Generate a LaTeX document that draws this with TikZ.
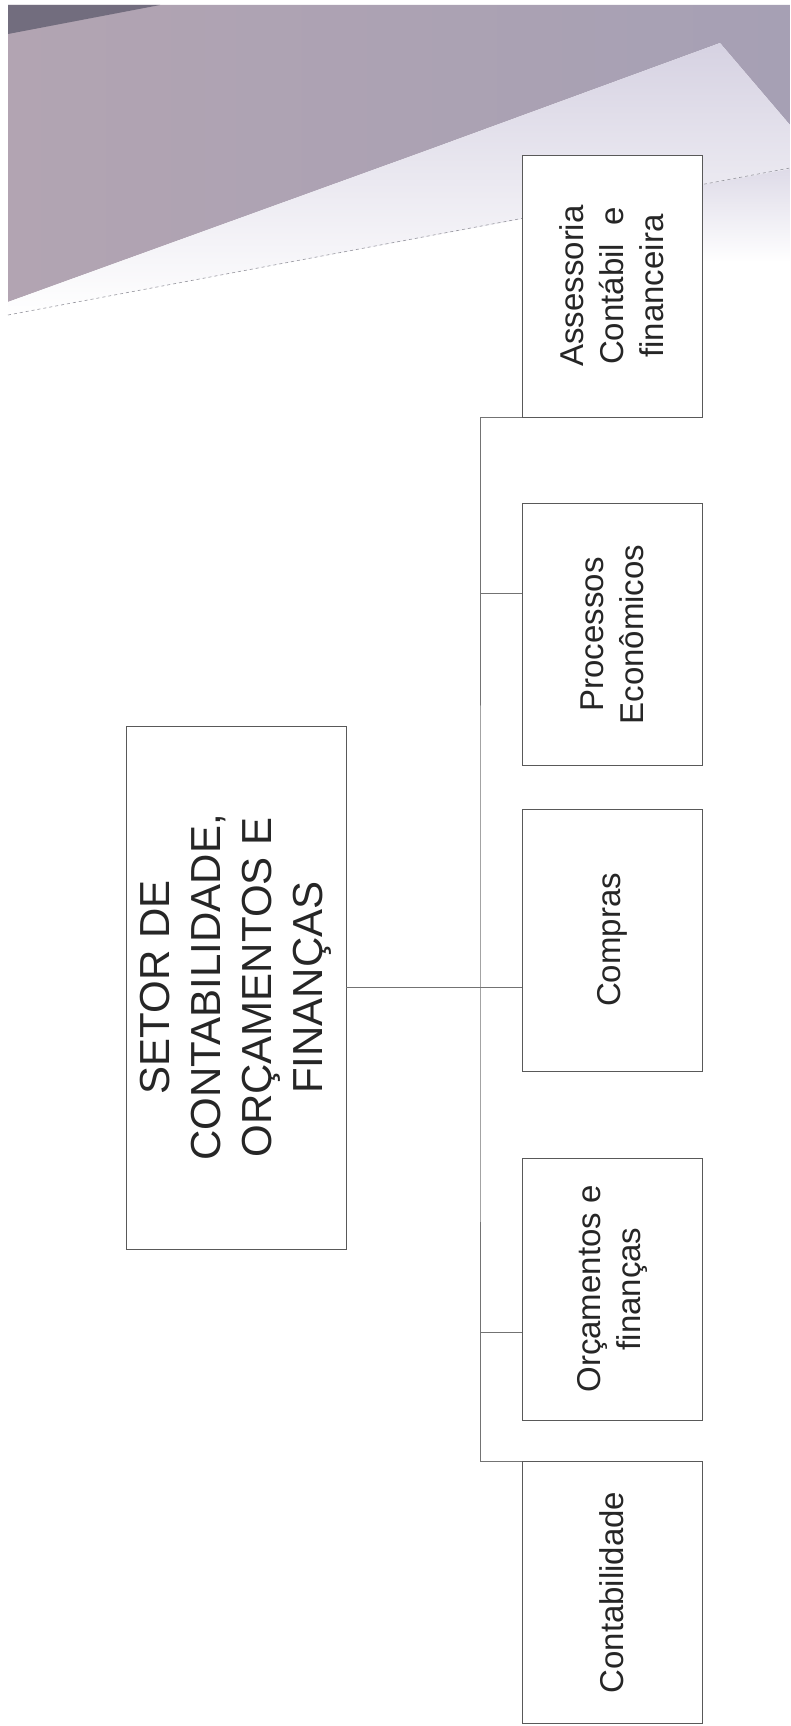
\documentclass[tikz,border=0pt]{standalone}
\usepackage{fontspec}
\setmainfont{Liberation Sans}
\definecolor{photoL}{RGB}{178,164,178}
\definecolor{photoR}{RGB}{166,160,180}
\definecolor{photodark}{RGB}{88,86,104}
\definecolor{sheet}{RGB}{214,210,226}
\definecolor{paperedge}{RGB}{150,150,158}
\tikzset{unit/.style={draw=black!65, fill=white, line width=0.8pt, rotate=90,
   align=center, text=black!85, inner sep=2pt},
 topunit/.style={unit, minimum width=523pt, minimum height=220pt,
   font=\fontsize{42}{51}\selectfont},
 subunit/.style={unit, minimum width=262pt, minimum height=180pt,
   font=\fontsize{33}{40}\selectfont},
 link/.style={draw=black!55, line width=0.8pt},
 }

\begin{document}
\begin{tikzpicture}[x=1pt, y=-1pt]
        \useasboundingbox (0,0) rectangle (790,1726);
        \fill[white] (0,0) rectangle (790,1726);
        \shade[left color=photoL, right color=photoR] (8,5) -- (790,5) -- (790,125) -- (720,43) -- (428,150) -- (8,302) -- cycle;
        \fill[photodark, opacity=.7] (8,5) -- (160,5) -- (8,34) -- cycle;
        \shade[top color=sheet, bottom color=white] (428,150) -- (720,43) -- (790,125) -- (790,169) -- (8,315) -- (8,302) -- cycle;
        \shade[top color=sheet!80, bottom color=white] (697,186) -- (790,169) -- (790,262) -- (697,262) -- cycle;
        \draw[paperedge, dashed, line width=0.6pt] (8,315) -- (790,168);

        \node[topunit] (main) at (236,987.5) {SETOR DE\\CONTABILIDADE,\\ORÇAMENTOS E\\FINANÇAS};
        \foreach \y/\name/\txt in {286/asse/{Assessoria\\Contábil\ \ e\\financeira},
            634.5/proc/{Processos\\Econômicos}, 940/comp/Compras,
            1289/orca/{Orçamentos e\\finanças}, 1592.5/cont/Contabilidade} {
            \node[subunit] (\name) at (612,\y) {\txt};
        }

        \coordinate (bus) at (480,987.5);
        \coordinate (procjoin) at (480,593);
        \coordinate (orcajoin) at (480,1332);
        \draw[link] (main.south) -- (main.south -| comp.north);
        \draw[link] (asse.north west) -| (bus) |- (cont.north east);
        \draw[link] (procjoin) -- (procjoin -| proc.north);
        \draw[link] (orcajoin) -- (orcajoin -| orca.north);
    \end{tikzpicture}
\end{document}
